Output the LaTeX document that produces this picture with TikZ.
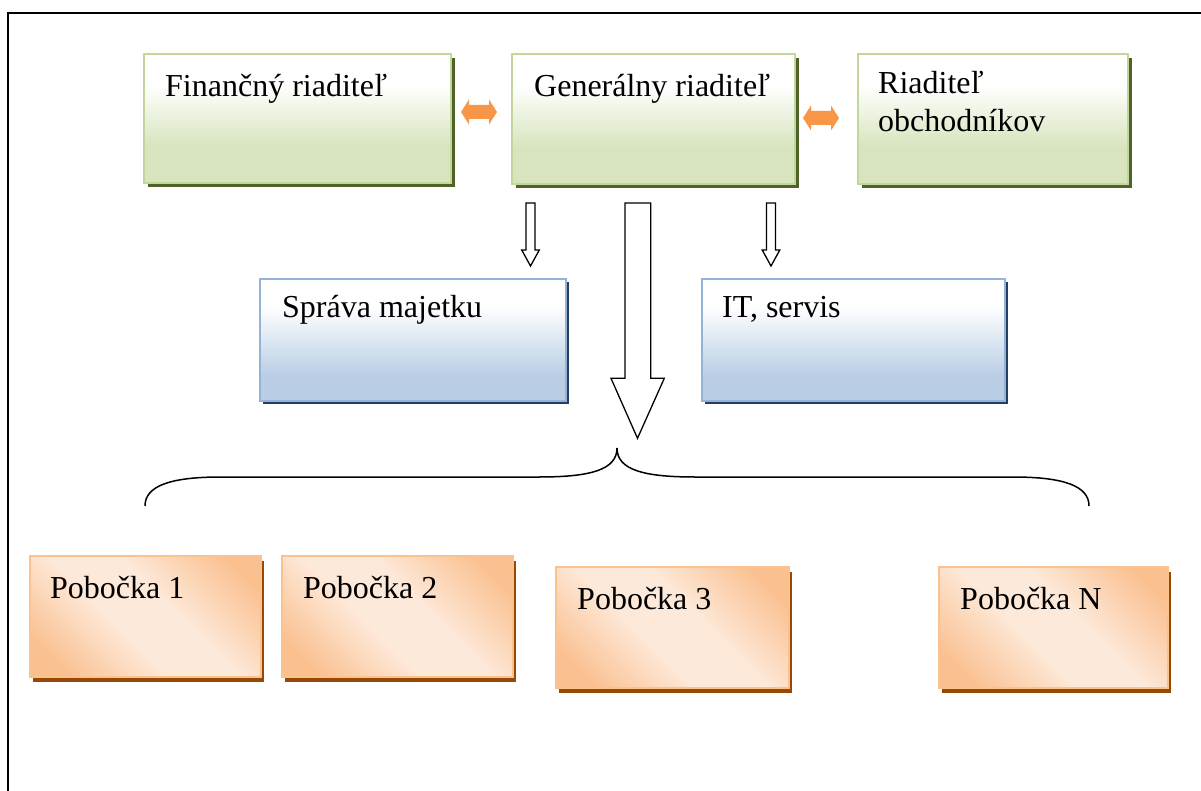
\documentclass[tikz,border=0pt]{standalone}
\usepackage{fontspec}
\setmainfont{Liberation Serif}
\usetikzlibrary{fit,shadows}
\definecolor{gbot}{HTML}{D7E4BD}
\definecolor{gline}{HTML}{C3D69B}
\definecolor{gshad}{HTML}{4F6228}
\definecolor{bbot}{HTML}{B9CDE5}
\definecolor{bline}{HTML}{95B3D7}
\definecolor{bshad}{HTML}{243F60}
\definecolor{ocor}{HTML}{FAC090}
\definecolor{olight}{HTML}{FDE9D9}
\definecolor{oline}{HTML}{F9C28F}
\definecolor{oshad}{HTML}{984807}
\definecolor{oarr}{HTML}{F79646}
\pgfdeclareverticalshading{gshade}{100bp}{color(0bp)=(gbot); color(39bp)=(gbot); color(63bp)=(white); color(100bp)=(white)}
\pgfdeclareverticalshading{bshade}{100bp}{color(0bp)=(bbot); color(35bp)=(bbot); color(64bp)=(white); color(100bp)=(white)}
\pgfdeclarehorizontalshading{oshade}{100bp}{color(0bp)=(ocor); color(22bp)=(ocor); color(43bp)=(olight); color(57bp)=(olight); color(78bp)=(ocor); color(100bp)=(ocor)}
\tikzset{
  gbox/.style={draw=gline, line width=2pt, shading=gshade, inner sep=0pt,
    general shadow={fill=gshad, shadow xshift=4pt, shadow yshift=-4pt}},
  bbox/.style={draw=bline, line width=2pt, shading=bshade, inner sep=0pt,
    general shadow={fill=bshad, shadow xshift=3pt, shadow yshift=-3pt}},
  obox/.style={draw=oline, line width=2pt, shading=oshade, shading angle=45, inner sep=0pt,
    general shadow={fill=oshad, shadow xshift=3pt, shadow yshift=-5pt}},
  lbl/.style={anchor=base west, inner sep=0pt, font=\fontsize{32}{38}\selectfont},
  barrow/.style={draw=black, fill=white, line width=1.3pt, line join=miter},
  darrow/.style={fill=oarr},
  bracestyle/.style={draw=black, line width=1.5pt}
}
\begin{document}
\begin{tikzpicture}[x=1pt,y=-1pt]
\useasboundingbox (0,0) rectangle (1201,791);
\fill[white] (0,0) rectangle (1201,791);
% outer frame
\draw[line width=2pt] (8,791) -- (8,13.5) -- (1201,13.5);
% top row
\node[gbox, fit={(144,54) (451,183)}] (fin) {};
\node[gbox, fit={(512,54) (795,184)}] (gen) {};
\node[gbox, fit={(858,54) (1128,184)}] (obch) {};
\node[lbl] (tfin) at (165,97) {Finančný riaditeľ};
\node[lbl] (tgen) at (534,97) {Generálny riaditeľ};
\node[lbl] (tobch1) at (878,94) {Riaditeľ};
\node[lbl] (tobch2) at (878,132) {obchodníkov};
% double arrows
\fill[darrow] (461,112) -- (469,99.5) -- (469,105) -- (489,105) -- (489,99.5) -- (497,112)
  -- (489,124.5) -- (489,119) -- (469,119) -- (469,124.5) -- cycle;
\fill[darrow] (803,118) -- (811,105.5) -- (811,111) -- (831,111) -- (831,105.5) -- (839,118)
  -- (831,130.5) -- (831,125) -- (811,125) -- (811,130.5) -- cycle;
% middle row
\node[bbox, fit={(260,279) (566,401)}] (spr) {};
\node[bbox, fit={(702,279) (1005,401)}] (it) {};
\node[lbl] (tspr) at (282,318) {Správa majetku};
\node[lbl] (tit) at (722,318) {IT, servis};
% block arrows
\draw[barrow] (526,203) -- (535,203) -- (535,250) -- (539.3,250) -- (530.5,266) -- (521.7,250) -- (526,250) -- cycle;
\draw[barrow] (766.5,203) -- (775.5,203) -- (775.5,250) -- (779.8,250) -- (771,266) -- (762.2,250) -- (766.5,250) -- cycle;
\draw[barrow] (625,203) -- (650.7,203) -- (650.7,378.3) -- (664.3,378.3) -- (637.5,438.3) -- (611,378.3) -- (625,378.3) -- cycle;
% brace
\coordinate (bl) at (145,506);
\coordinate (br) at (1089,506);
\coordinate (bc) at (617,448);
\draw[bracestyle] (bl) .. controls (145,486) and (170,477) .. (221,477) -- (539,477)
  .. controls (590,477) and (617,470) .. (bc)
  .. controls (617,470) and (644,477) .. (695,477) -- (1013,477)
  .. controls (1064,477) and (1089,486) .. (br);
% bottom row
\node[obox, fit={(30,556) (261,677)}] (p1) {};
\node[obox, fit={(282,556) (513,677)}] (p2) {};
\node[obox, fit={(556,567) (789,688)}] (p3) {};
\node[obox, fit={(939,567) (1168,688)}] (pn) {};
\node[lbl] (tp1) at (50,598) {Pobočka 1};
\node[lbl] (tp2) at (303,598) {Pobočka 2};
\node[lbl] (tp3) at (577,609) {Pobočka 3};
\node[lbl] (tpn) at (960,609) {Pobočka N};
\end{tikzpicture}
\end{document}
